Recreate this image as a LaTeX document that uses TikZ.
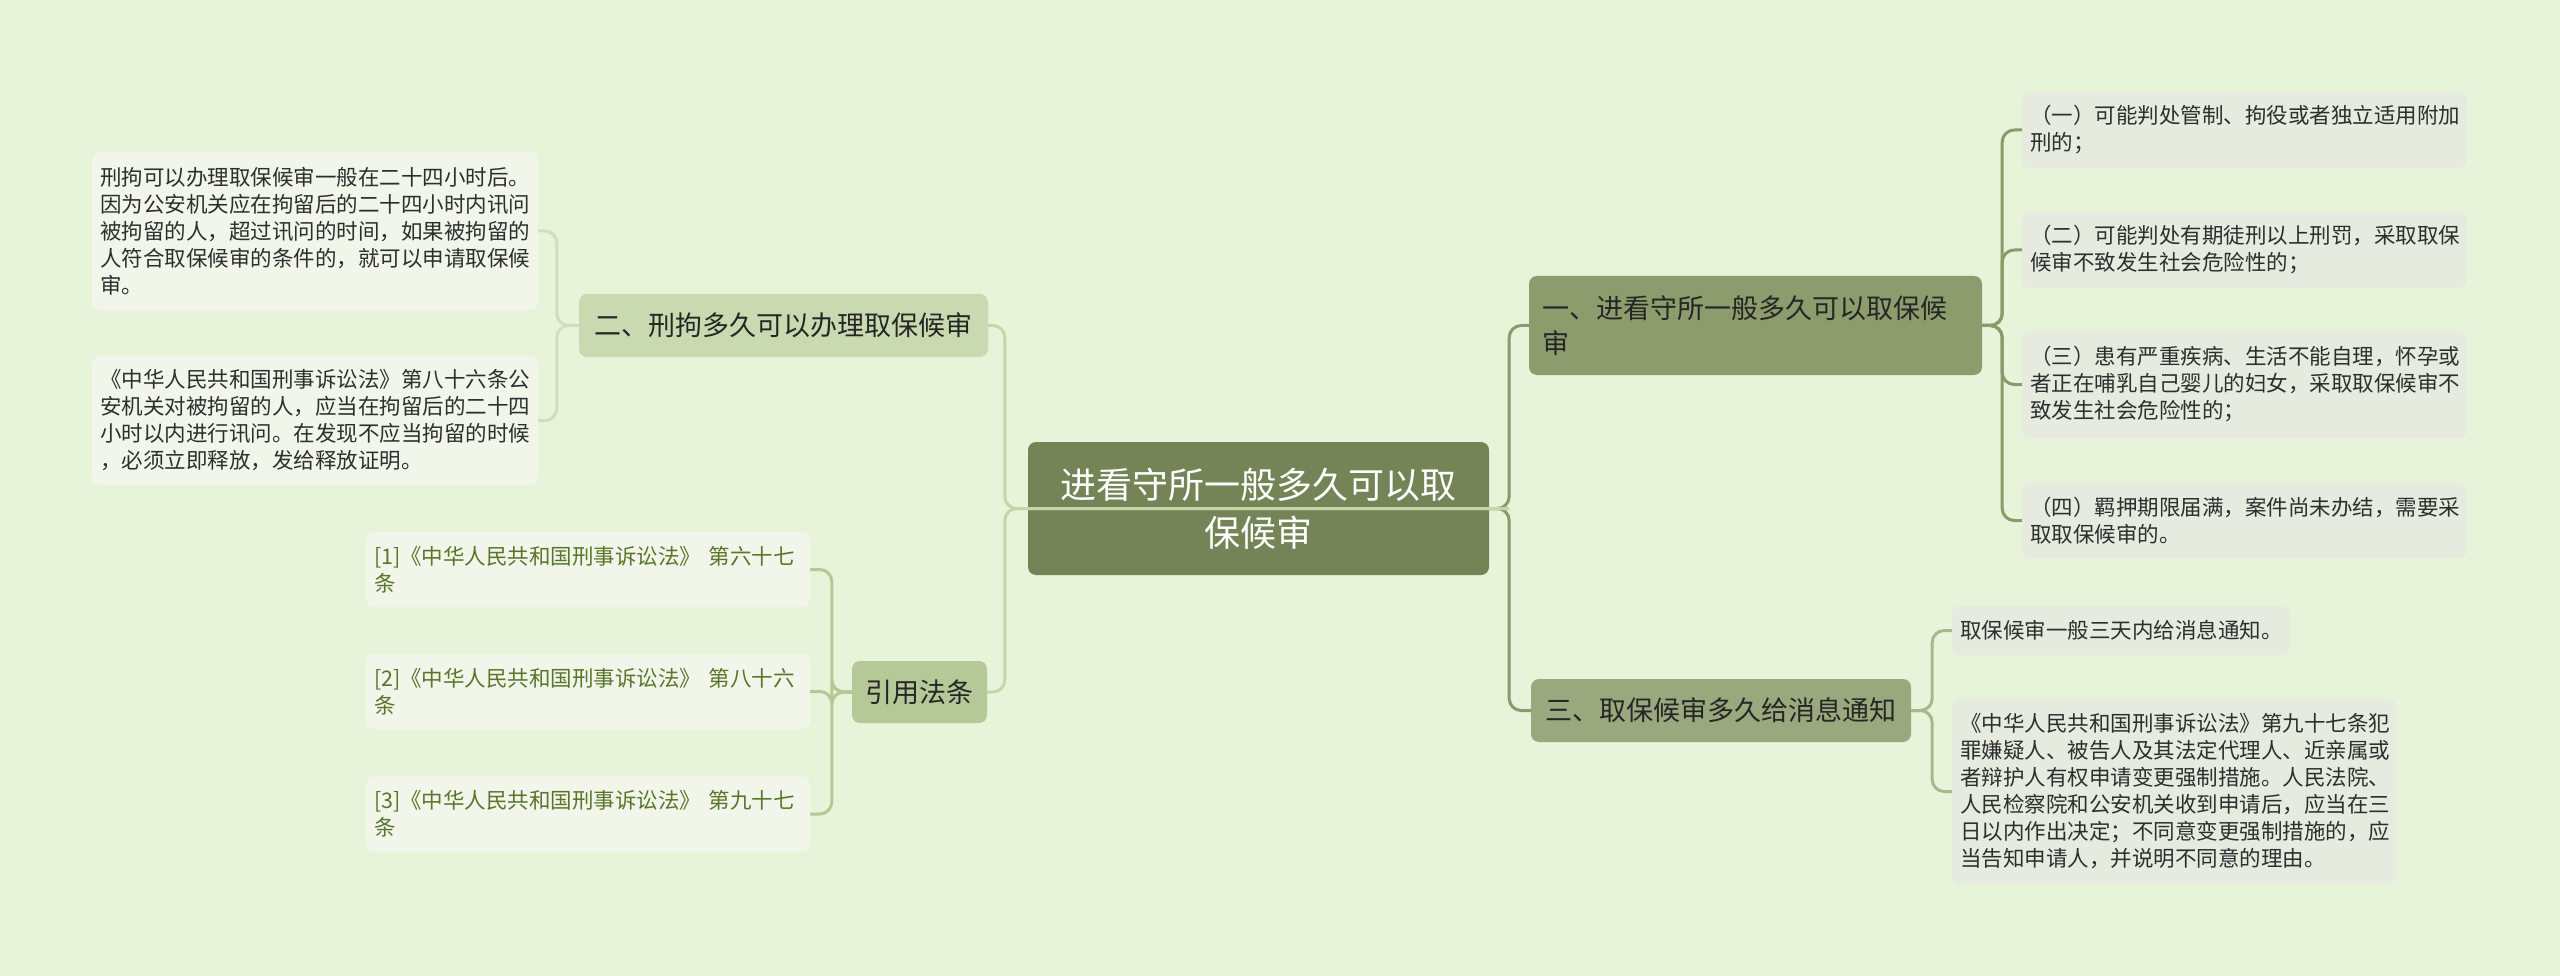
\documentclass[tikz,border=0pt]{standalone}
\usepackage{fontspec}
\newfontfamily\cjk{Noto Sans CJK SC}
\definecolor{bg}{HTML}{E8F4DA}
\definecolor{rootfill}{HTML}{748456}
\definecolor{bonefill}{HTML}{8C9C6C}
\definecolor{bthreefill}{HTML}{9AA87E}
\definecolor{btwofill}{HTML}{C9DAB0}
\definecolor{bfourfill}{HTML}{B5C898}
\definecolor{leafgray}{HTML}{E6EADF}
\definecolor{leaflight}{HTML}{F1F5EA}
\definecolor{txt}{HTML}{2E2E2E}
\definecolor{btxt}{HTML}{262626}
\definecolor{reftxt}{HTML}{5A762B}
\definecolor{colive}{HTML}{8A9A68}
\definecolor{cthree}{HTML}{A9B78F}
\definecolor{cleft}{HTML}{C5D6A8}
\definecolor{ctwo}{HTML}{D0DFBB}
\definecolor{cfour}{HTML}{B5C795}
\tikzset{
  box/.style={rounded corners=8pt, inner ysep=0pt, anchor=center},
  leaf/.style={box, inner xsep=8pt, align=left, text width=#1, font=\cjk\fontsize{21.5}{27}\selectfont},
  leafA/.style={leaf=#1, fill=leafgray, text=txt},
  leafL/.style={leaf=#1, fill=leaflight, text=txt},
  leafR/.style={leaf=#1, fill=leaflight, text=reftxt},
  branch/.style={box, inner xsep=0pt, align=center, text=btxt, font=\cjk\fontsize{27}{35}\selectfont},
  conn/.style={line width=3pt, rounded corners=12pt},
}
\begin{document}
\begin{tikzpicture}[x=1pt, y=-1pt]
\useasboundingbox (0,0) rectangle (2560,976);
\fill[bg] (0,0) rectangle (2560,976);

% root
\node[box, fill=rootfill, text=white, align=center, inner xsep=10pt, text width=441pt,
      minimum height=133pt, font=\cjk\fontsize{36}{48}\selectfont] (root) at (1258.5,508.5)
  {进看守所一般多久可以取\\保候审};

% branches
\node[box, fill=bonefill, text=btxt, align=left, inner xsep=13pt, text width=427pt,
      minimum height=99pt, font=\cjk\fontsize{27}{35}\selectfont] (b1) at (1755.5,325.5)
  {一、进看守所一般多久可以取保候\\审};
\node[branch, fill=bthreefill, minimum width=380pt, minimum height=63pt] (b3) at (1721,710.5)
  {三、取保候审多久给消息通知};
\node[branch, fill=btwofill, minimum width=409pt, minimum height=63pt] (b2) at (783.5,325.5)
  {二、刑拘多久可以办理取保候审};
\node[branch, fill=bfourfill, minimum width=135pt, minimum height=62pt] (b4) at (919.5,692)
  {引用法条};

% right leaves of branch 1
\node[leafA=429pt, minimum height=76pt] (a1) at (2244.5,130)
  {（一）可能判处管制、拘役或者独立适用附加\\刑的；};
\node[leafA=429pt, minimum height=76pt] (a2) at (2244.5,250)
  {（二）可能判处有期徒刑以上刑罚，采取取保\\候审不致发生社会危险性的；};
\node[leafA=429pt, minimum height=107pt] (a3) at (2244.5,384.5)
  {（三）患有严重疾病、生活不能自理，怀孕或\\者正在哺乳自己婴儿的妇女，采取取保候审不\\致发生社会危险性的；};
\node[leafA=429pt, minimum height=75pt] (a4) at (2244.5,520.5)
  {（四）羁押期限届满，案件尚未办结，需要采\\取取保候审的。};

% right leaves of branch 3
\node[leafA=322pt, minimum height=49pt] (c1) at (2121,630.5)
  {取保候审一般三天内给消息通知。};
\node[leafA=428pt, minimum height=185pt] (c2) at (2174,791.5)
  {《中华人民共和国刑事诉讼法》第九十七条犯\\罪嫌疑人、被告人及其法定代理人、近亲属或\\者辩护人有权申请变更强制措施。人民法院、\\人民检察院和公安机关收到申请后，应当在三\\日以内作出决定；不同意变更强制措施的，应\\当告知申请人，并说明不同意的理由。};

% left leaves of branch 2
\node[leafL=430pt, minimum height=158pt] (l1) at (315,231)
  {刑拘可以办理取保候审一般在二十四小时后。\\因为公安机关应在拘留后的二十四小时内讯问\\被拘留的人，超过讯问的时间，如果被拘留的\\人符合取保候审的条件的，就可以申请取保候\\审。};
\node[leafL=430pt, minimum height=129pt] (l2) at (315,420.5)
  {《中华人民共和国刑事诉讼法》第八十六条公\\安机关对被拘留的人，应当在拘留后的二十四\\小时以内进行讯问。在发现不应当拘留的时候\\，必须立即释放，发给释放证明。};

% reference leaves
\node[leafR=428pt, minimum height=75pt] (r1) at (588,569.5)
  {[1]《中华人民共和国刑事诉讼法》 第六十七\\条};
\node[leafR=428pt, minimum height=75pt] (r2) at (588,691.5)
  {[2]《中华人民共和国刑事诉讼法》 第八十六\\条};
\node[leafR=428pt, minimum height=75pt] (r3) at (588,814)
  {[3]《中华人民共和国刑事诉讼法》 第九十七\\条};

% connectors: root to right branches
\draw[conn, colive] (root.east) -- ([xshift=20pt]root.east) |- (b1.west);
\draw[conn, colive] (root.east) -- ([xshift=20pt]root.east) |- (b3.west);
% connectors: root to left branches (line passes across root)
\draw[conn, cleft] ([xshift=20pt]root.east) -- ([xshift=-23pt]root.west) |- (b2.east);
\draw[conn, cleft] ([xshift=20pt]root.east) -- ([xshift=-23pt]root.west) |- (b4.east);

% branch 1 to leaves
\foreach \n in {a1,a2,a3,a4}
  \draw[conn, colive] (b1.east) -- ([xshift=20pt]b1.east) |- (\n.west);
% branch 3 to leaves
\foreach \n in {c1,c2}
  \draw[conn, cthree] (b3.east) -- ([xshift=21pt]b3.east) |- (\n.west);
% branch 2 to leaves
\foreach \n in {l1,l2}
  \draw[conn, ctwo] (b2.west) -- ([xshift=-22pt]b2.west) |- (\n.east);
% branch 4 to leaves
\foreach \n in {r1,r2,r3}
  \draw[conn, cfour] (b4.west) -- ([xshift=-20pt]b4.west) |- (\n.east);
\end{tikzpicture}
\end{document}
